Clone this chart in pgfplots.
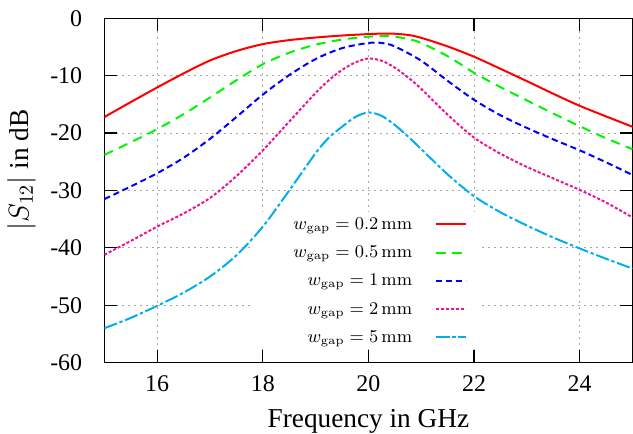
\documentclass[border=0pt]{standalone}
\usepackage[no-math]{fontspec}
\setmainfont{Liberation Serif}
\usepackage{pgfplots}
\pgfplotsset{compat=1.18}
\definecolor{cR}{RGB}{255,0,0}
\definecolor{cG}{RGB}{0,245,0}
\definecolor{cB}{RGB}{0,0,255}
\definecolor{cP}{RGB}{236,20,145}
\definecolor{cC}{RGB}{0,174,239}
\begin{document}
\begin{tikzpicture}
\useasboundingbox (-52.2bp,-35.65bp) rectangle (264.35bp,181.35bp);
\begin{axis}[
  scale only axis, width=264.1bp, height=172.2bp,
  xmin=15, xmax=25, ymin=-60, ymax=0,
  xtick={16,18,20,22,24}, ytick={-60,-50,-40,-30,-20,-10,0},
  tick align=inside, tick pos=both, major tick length=6.5bp,
  grid=major,
  major grid style={gray!70, line width=0.5bp, dash pattern=on 0.6bp off 2.4bp},
  axis line style={line width=0.6bp},
  every tick/.style={black, line width=0.6bp},
  ticklabel style={font=\fontsize{12}{14}\selectfont},
  /pgf/number format/assume math mode=true,
  xticklabel style={yshift=-3bp},
  yticklabel style={xshift=-7.6bp},
  xlabel={Frequency in GHz},
  ylabel={$|S_{12}|$ in dB},
  label style={font=\fontsize{13.7}{15}\selectfont},
  xlabel style={at={(axis description cs:0.5,0)}, anchor=base, yshift=-32.5bp},
  ylabel style={at={(axis description cs:-0.157,0.56)}, anchor=center},
  legend cell align=right,
  legend plot pos=right,
  legend image code/.code={\draw[#1] (0bp,0bp) -- (15bp,0bp);},
  legend style={at={(axis description cs:0.6869,0.4274)}, anchor=north east,
    draw=none, fill=none, inner sep=0pt, outer sep=0pt,
    row sep=5.1bp, column sep=11.5bp,
    font=\fontsize{9}{10}\selectfont,
    nodes={inner sep=0pt, text height=7bp, text depth=2bp}},
]
\fill[white] (axis cs:17.815,-33.75) rectangle (axis cs:22.075,-57.6);
\addplot[cR, solid, line width=1bp, smooth] coordinates {
(15,-17.2) (15.5,-14.6) (16,-12.05) (16.5,-9.6) (17,-7.35) (17.5,-5.7) (18,-4.5)
(18.5,-3.8) (19,-3.35) (19.5,-3.0) (20,-2.75) (20.4,-2.65) (20.75,-2.9) (21,-3.4) (21.5,-4.9)
(22,-6.7) (22.5,-8.8) (23,-10.95) (23.5,-13.15) (24,-15.25) (24.5,-17.1) (25,-18.9)};
\addlegendentry{$w_{\mathrm{gap}} = 0.2\,\mathrm{mm}$}
\addplot[cG, dash pattern=on 4.7bp off 3.3bp, line width=1bp, smooth] coordinates {
(15,-23.8) (15.5,-21.6) (16,-19.3) (16.5,-16.7) (17,-13.8) (17.5,-10.8) (18,-8.0)
(18.5,-6.0) (19,-4.6) (19.5,-3.7) (20,-3.2) (20.4,-3.1) (20.75,-3.6) (21,-4.3) (21.5,-6.6)
(22,-9.5) (22.5,-12.0) (23,-14.3) (23.5,-16.6) (24,-18.8) (24.5,-20.9) (25,-22.8)};
\addlegendentry{$w_{\mathrm{gap}} = 0.5\,\mathrm{mm}$}
\addplot[cB, dash pattern=on 3.1bp off 1.9bp, line width=1bp, smooth] coordinates {
(15,-31.5) (15.5,-29.3) (16,-27.0) (16.5,-24.3) (17,-21.0) (17.5,-17.2) (18,-13.3)
(18.5,-9.9) (19,-7.1) (19.5,-5.2) (20,-4.3) (20.25,-4.3) (20.5,-4.9) (21,-7.4) (21.5,-10.9)
(22,-14.2) (22.5,-16.9) (23,-19.1) (23.5,-21.1) (24,-23.0) (24.5,-25.1) (25,-27.3)};
\addlegendentry{$w_{\mathrm{gap}} = 1\,\mathrm{mm}$}
\addplot[cP, dash pattern=on 1.5bp off 1bp, line width=1bp, smooth] coordinates {
(15,-41.2) (15.5,-38.8) (16,-36.3) (16.5,-34.0) (17,-31.3) (17.5,-27.5) (18,-23.0)
(18.5,-18.0) (19,-13.0) (19.25,-10.8) (19.5,-9.0) (19.75,-7.7) (20,-7.0) (20.25,-7.4)
(20.5,-8.6) (20.75,-10.3) (21,-12.3) (21.5,-16.8) (22,-20.8) (22.5,-23.6) (23,-25.9)
(23.5,-27.9) (24,-29.9) (24.5,-32.1) (25,-34.7)};
\addlegendentry{$w_{\mathrm{gap}} = 2\,\mathrm{mm}$}
\addplot[cC, dash pattern=on 6.7bp off 1.4bp on 1.6bp off 1.4bp, line width=1bp, smooth] coordinates {
(15,-54.0) (15.5,-52.2) (16,-50.1) (16.5,-47.8) (17,-45.0) (17.5,-41.3) (18,-36.3)
(18.5,-30.0) (19,-23.5) (19.25,-20.8) (19.5,-18.9) (19.75,-17.2) (20,-16.4) (20.25,-17.0)
(20.5,-18.6) (20.75,-20.6) (21,-22.8) (21.5,-27.2) (22,-31.0) (22.5,-33.8) (23,-36.1)
(23.5,-38.2) (24,-40.1) (24.5,-41.9) (25,-43.6)};
\addlegendentry{$w_{\mathrm{gap}} = 5\,\mathrm{mm}$}
\end{axis}
\end{tikzpicture}
\end{document}
